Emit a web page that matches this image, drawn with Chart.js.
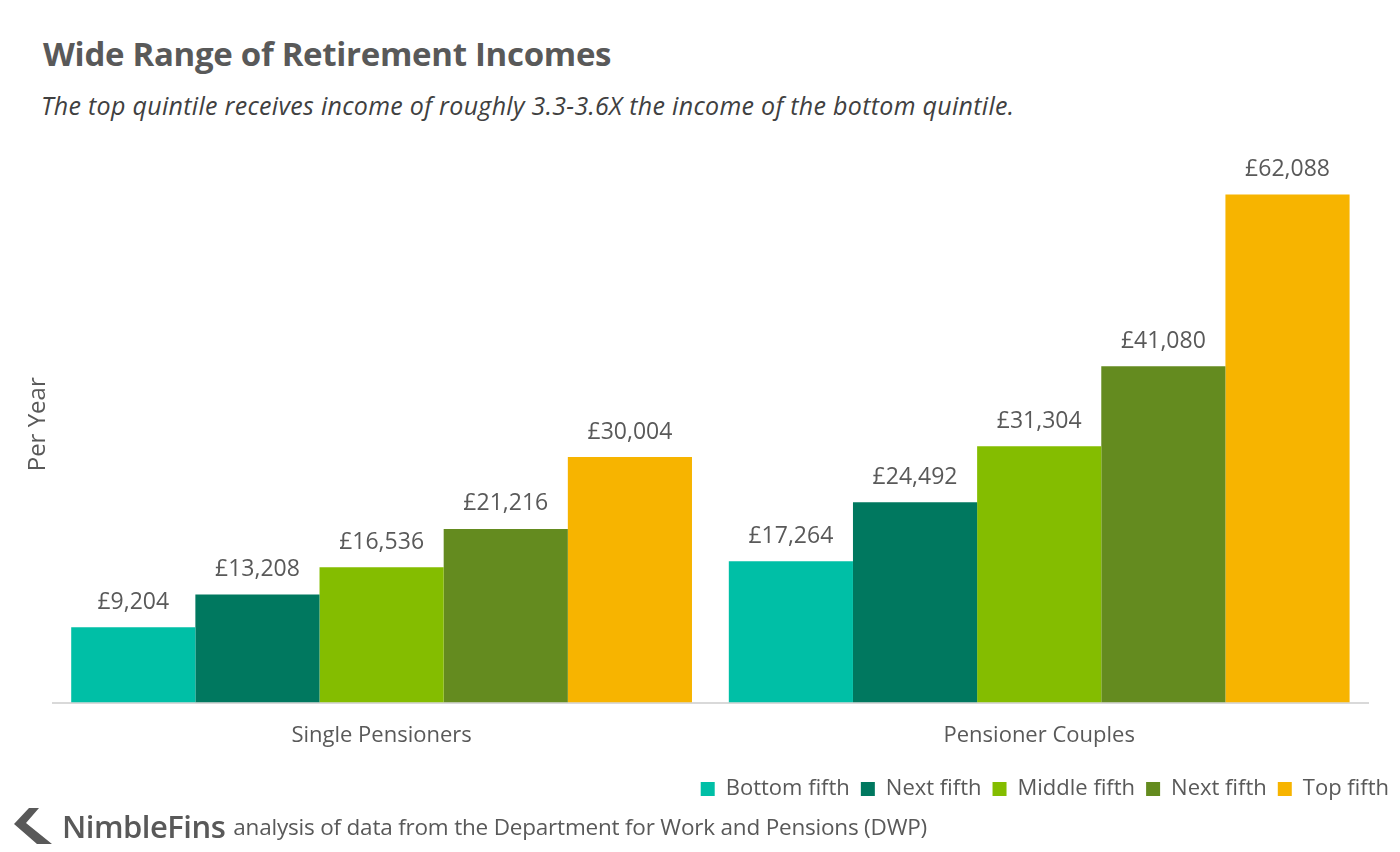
<!DOCTYPE html>
<html>
<head>
<meta charset="utf-8">
<script src="https://cdn.jsdelivr.net/npm/chart.js@4.4.1/dist/chart.umd.min.js"></script>
<style>
  html, body { margin: 0; padding: 0; background: #ffffff; }
  body { width: 1400px; height: 852px; position: relative; overflow: hidden; font-family: "Open Sans", sans-serif; color: #595959; }
  #title { position: absolute; left: 43px; top: 31px; font-size: 33px; font-weight: 700; color: #595959; white-space: nowrap; letter-spacing: -0.3px; }
  #subtitle { position: absolute; left: 41px; top: 88px; font-size: 25px; font-style: italic; color: #404040; white-space: nowrap; letter-spacing: 0.3px; }
  #wrap { position: absolute; left: 0; top: 0; width: 1400px; height: 810px; }
  #footer { position: absolute; left: 14px; top: 806px; height: 40px; display: flex; align-items: center; white-space: nowrap; }
  #footer .brand { font-size: 31px; font-weight: 600; color: #595959; margin-left: 10px; letter-spacing: -0.5px; }
  #footer .src { font-size: 22.5px; color: #595959; margin-left: 8px; letter-spacing: -0.2px; }
</style>
</head>
<body>
<div id="title">Wide Range of Retirement Incomes</div>
<div id="subtitle">The top quintile receives income of roughly 3.3-3.6X the income of the bottom quintile.</div>
<div id="wrap"><canvas id="c" width="1400" height="810"></canvas></div>
<div id="footer">
  <svg width="38" height="36" viewBox="0 0 38 36"><polygon points="15,0 25,0 12,15 38,36 23,36 0,16" fill="#595959"/></svg>
  <span class="brand">NimbleFins</span>
  <span class="src">analysis of data from the Department for Work and Pensions (DWP)</span>
</div>
<script>
const categories = ["Single Pensioners", "Pensioner Couples"];
const seriesNames = ["Bottom fifth", "Next fifth", "Middle fifth", "Next fifth", "Top fifth"];
const bottomFifth = [9204, 17264];
const nextFifth1 = [13208, 24492];
const middleFifth = [16536, 31304];
const nextFifth2 = [21216, 41080];
const topFifth = [30004, 62088];
const seriesColors = ["#00BFA6", "#00785F", "#84BD00", "#648B1F", "#F7B400"];

const seriesValues = [bottomFifth, nextFifth1, middleFifth, nextFifth2, topFifth];

const valueLabels = {
  id: 'valueLabels',
  afterDatasetsDraw(chart) {
    const ctx = chart.ctx;
    ctx.save();
    ctx.font = '23px "Open Sans", sans-serif';
    ctx.fillStyle = '#595959';
    ctx.textAlign = 'center';
    ctx.textBaseline = 'middle';
    chart.data.datasets.forEach((ds, i) => {
      chart.getDatasetMeta(i).data.forEach((bar, j) => {
        const v = ds.data[j];
        ctx.fillText('£' + v.toLocaleString('en-GB'), bar.x, bar.y - 25);
      });
    });
    ctx.restore();
  }
};

new Chart(document.getElementById('c'), {
  type: 'bar',
  data: {
    labels: categories,
    datasets: seriesNames.map((n, i) => ({
      label: n,
      data: seriesValues[i],
      backgroundColor: seriesColors[i],
      borderWidth: 0,
      barPercentage: 1.0,
      categoryPercentage: 0.944
    }))
  },
  options: {
    responsive: false,
    animation: false,
    layout: { padding: { top: 146, left: 20, right: 0, bottom: 0 } },
    plugins: {
      legend: {
        position: 'bottom',
        align: 'end',
        labels: {
          boxWidth: 14, boxHeight: 14,
          color: '#595959',
          font: { family: '"Open Sans", sans-serif', size: 22 },
          padding: 11
        }
      },
      tooltip: { enabled: false },
      title: { display: false }
    },
    scales: {
      x: {
        grid: { display: false, drawTicks: false },
        border: { display: true, color: '#d9d9d9', width: 2 },
        ticks: { color: '#595959', font: { family: '"Open Sans", sans-serif', size: 22 }, padding: 20 },
        afterFit(scale) { scale.height -= 2; }
      },
      y: {
        min: 0, max: 68000,
        grid: { display: false, drawTicks: false },
        border: { display: false },
        ticks: { display: false },
        title: { display: true, text: 'Per Year', color: '#595959', font: { family: '"Open Sans", sans-serif', size: 24 }, padding: { top: 4, bottom: 0 } }
      },
      yRight: {
        position: 'right',
        display: true,
        grid: { display: false, drawTicks: false },
        border: { display: false },
        ticks: { display: false },
        afterFit(scale) { scale.width = 32; }
      }
    }
  },
  plugins: [valueLabels]
});
</script>
</body>
</html>
